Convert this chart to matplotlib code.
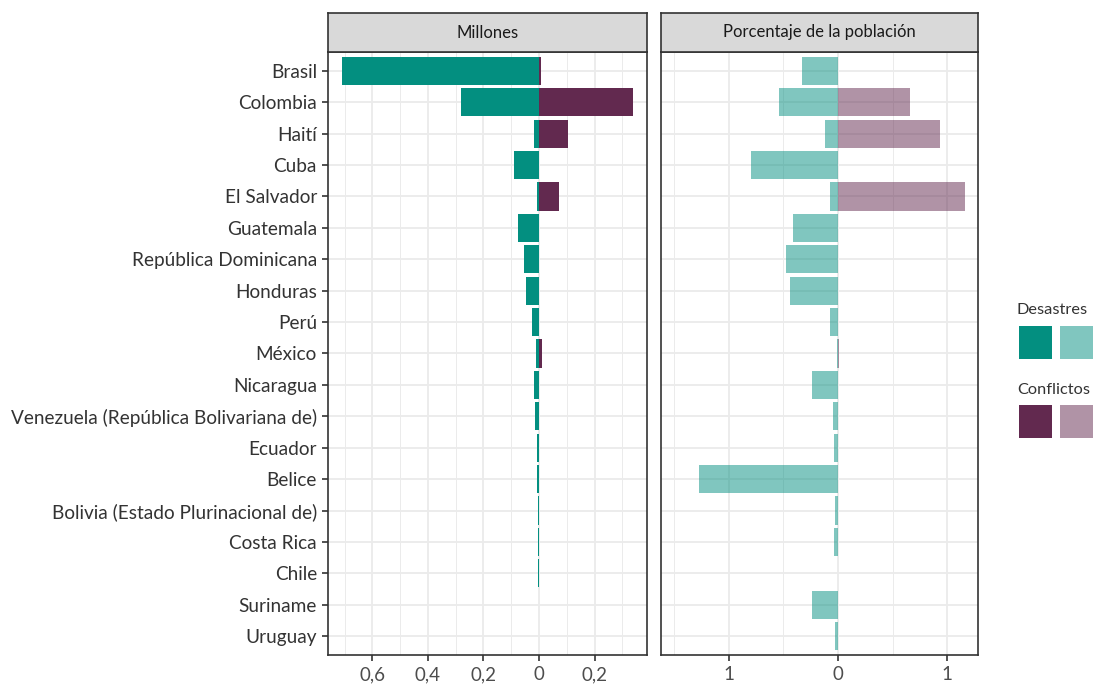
import matplotlib
matplotlib.use("Agg")
import matplotlib.pyplot as plt
from matplotlib.patches import Rectangle
import numpy as np

plt.rcParams['font.family'] = ['Lato', 'DejaVu Sans']

countries = ["Brasil", "Colombia", "Haití", "Cuba", "El Salvador", "Guatemala",
             "República Dominicana", "Honduras", "Perú", "México", "Nicaragua",
             "Venezuela (República Bolivariana de)", "Ecuador", "Belice",
             "Bolivia (Estado Plurinacional de)", "Costa Rica", "Chile",
             "Suriname", "Uruguay"]

# Millones
desastres_mill = [0.710, 0.281, 0.018, 0.090, 0.007, 0.075, 0.054, 0.047, 0.025,
                  0.011, 0.018, 0.014, 0.007, 0.006, 0.003, 0.002, 0.002, 0.0015, 0.001]
conflictos_mill = [0.007, 0.339, 0.105, 0.0, 0.072, 0.0, 0.0, 0.0, 0.0,
                   0.011, 0.0, 0.0, 0.0, 0.0, 0.0, 0.0, 0.0, 0.0, 0.0]

# Porcentaje de la población
desastres_pct = [0.33, 0.54, 0.12, 0.80, 0.075, 0.41, 0.48, 0.44, 0.07,
                 0.01, 0.24, 0.05, 0.035, 1.27, 0.025, 0.035, 0.005, 0.24, 0.025]
conflictos_pct = [0.003, 0.66, 0.93, 0.0, 1.16, 0.0, 0.0, 0.0, 0.0,
                  0.01, 0.0, 0.0, 0.0, 0.0, 0.0, 0.0, 0.0, 0.0, 0.0]

ticks_mill = [-0.6, -0.4, -0.2, 0.0, 0.2]
ticklabels_mill = ["0,6", "0,4", "0,2", "0", "0,2"]
ticks_pct = [-1, 0, 1]
ticklabels_pct = ["1", "0", "1"]

col_des = "#038F80"
col_con = "#62294F"
grid_col = "#EBEBEB"
border_col = "#333333"
text_col = "#4D4D4D"

W, H = 1093, 691
fig = plt.figure(figsize=(W / 100, H / 100), dpi=100)

def fx(px):
    return px / W

def fy(py):
    return 1 - py / H

panel_top, panel_bot = 52, 655
strip_top = 13

def make_panel(x0, x1, xlim, ticks, ticklabels, minor, dvals, cvals, alpha, title, show_y):
    ax = fig.add_axes([fx(x0), fy(panel_bot), fx(x1 - x0), (panel_bot - panel_top) / H])
    y = np.arange(len(countries))
    ax.barh(y, -np.array(dvals), height=0.9, color=col_des, alpha=alpha, linewidth=0, zorder=3)
    ax.barh(y, np.array(cvals), height=0.9, color=col_con, alpha=alpha, linewidth=0, zorder=3)
    ax.set_xlim(*xlim)
    ax.set_ylim(len(countries) - 0.4, -0.6)
    ax.set_xticks(ticks)
    ax.set_xticklabels(ticklabels)
    ax.set_xticks(minor, minor=True)
    ax.set_yticks(y)
    ax.grid(True, which='major', color=grid_col, linewidth=1.3, zorder=0)
    ax.grid(True, which='minor', axis='x', color=grid_col, linewidth=0.7, zorder=0)
    ax.set_axisbelow(True)
    for s in ax.spines.values():
        s.set_color(border_col)
        s.set_linewidth(1.2)
    ax.tick_params(axis='x', which='major', length=4, width=1.2, color=border_col,
                   labelsize=13.5, labelcolor=text_col, pad=4)
    ax.tick_params(axis='x', which='minor', length=0)
    if show_y:
        ax.set_yticklabels(countries)
        ax.tick_params(axis='y', length=4, width=1.2, color=border_col,
                       labelsize=13.7, labelcolor="#333333", pad=4)
    else:
        ax.set_yticklabels([])
        ax.tick_params(axis='y', length=0)
    # strip
    sax = fig.add_axes([fx(x0), fy(panel_top), fx(x1 - x0), (panel_top - strip_top) / H])
    sax.set_facecolor("#D9D9D9")
    sax.set_xticks([])
    sax.set_yticks([])
    for s in sax.spines.values():
        s.set_color(border_col)
        s.set_linewidth(1.2)
    sax.text(0.5, 0.5, title, ha='center', va='center', fontsize=12, color="#1A1A1A",
             transform=sax.transAxes)
    return ax

make_panel(328, 647, (-0.76, 0.389), ticks_mill, ticklabels_mill,
           np.arange(-0.7, 0.35, 0.1), desastres_mill, conflictos_mill, 1.0, "Millones", True)
make_panel(661, 978, (-1.62, 1.28), ticks_pct, ticklabels_pct,
           np.arange(-1.5, 1.3, 0.5), desastres_pct, conflictos_pct, 0.5,
           "Porcentaje de la población", False)

# Legend
def swatch(px, py, color, alpha):
    fig.patches.append(Rectangle((fx(px), fy(py + 33)), fx(33), 33 / H, color=color,
                                 alpha=alpha, transform=fig.transFigure, linewidth=0))

fig.text(fx(1017), fy(310), "Desastres", fontsize=11.8, color="#333333", va='center', ha='left')
swatch(1019, 326, col_des, 1.0)
swatch(1060, 326, col_des, 0.5)
fig.text(fx(1017), fy(390), "Conflictos", fontsize=11.8, color="#333333", va='center', ha='left')
swatch(1019, 405, col_con, 1.0)
swatch(1060, 405, col_con, 0.5)

fig.savefig("out.png", dpi=100)
